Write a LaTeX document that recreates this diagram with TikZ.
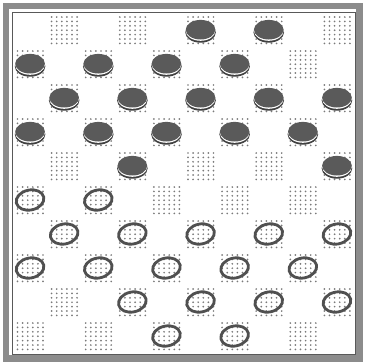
\documentclass[tikz,border=0pt]{standalone}
\definecolor{dotc}{HTML}{7A7A7A}
\definecolor{frame}{HTML}{8C8C8C}
\definecolor{ptop}{HTML}{5A5A5A}
\definecolor{prim}{HTML}{404040}
\definecolor{wring}{HTML}{505050}
\tikzset{
  dotmark/.style={fill=dotc},
  blacktop/.style={fill=ptop},
  blackrim/.style={fill=prim},
  whitering/.style={draw=wring,line width=2.8pt},
  frameband/.style={draw=frame,line width=6.5pt},
  frameline/.style={draw=black!65,line width=0.9pt}
}
\begin{document}
\begin{tikzpicture}[x=1pt,y=-1pt]
\useasboundingbox (0,0) rectangle (365,362);
\fill[white] (0,0) rectangle (365,362);
% frame
\draw[frameband] (6,6) rectangle (359.5,358.5);
\draw[frameline] (12.5,12.5) rectangle (355,354);
% dotted dark squares
\foreach \r in {0,...,9}{
  \foreach \c in {0,...,9}{
    \pgfmathtruncatemacro\odd{mod(\r+\c,2)}
    \ifnum\odd=1
      \foreach \i in {0,...,5}{
        \foreach \j in {0,...,6}{
          \fill[dotmark] ({13+\c*34.1+4.5+\i*5.1},{13+\r*34+4+\j*4.4}) circle (0.95);
        }
      }
    \fi
  }
}
% black pieces
\foreach \c/\r in {5/0,7/0,0/1,2/1,4/1,6/1,1/2,3/2,5/2,7/2,9/2,0/3,2/3,4/3,6/3,8/3,3/4,9/4}{
  \pgfmathsetmacro\cx{13+34.1*(\c+0.5)}
  \pgfmathsetmacro\cy{13+34*(\r+0.5)}
  \fill[blackrim] (\cx,\cy+2.3) ellipse (15.3 and 10.4);
  \fill[white] (\cx,\cy+1.0) ellipse (14.8 and 9.8);
  \fill[blacktop] (\cx,\cy-0.3) ellipse (14.8 and 9.8);
}
% white pieces
\foreach \c/\r in {0/5,2/5,1/6,3/6,5/6,7/6,9/6,0/7,2/7,4/7,6/7,8/7,3/8,5/8,7/8,9/8,4/9,6/9}{
  \pgfmathsetmacro\cx{13+34.1*(\c+0.5)}
  \pgfmathsetmacro\cy{13+34*(\r+0.5)}
  \draw[whitering,rotate around={12:(\cx,\cy)}] (\cx,\cy) ellipse (14 and 10);
}
\end{tikzpicture}
\end{document}
